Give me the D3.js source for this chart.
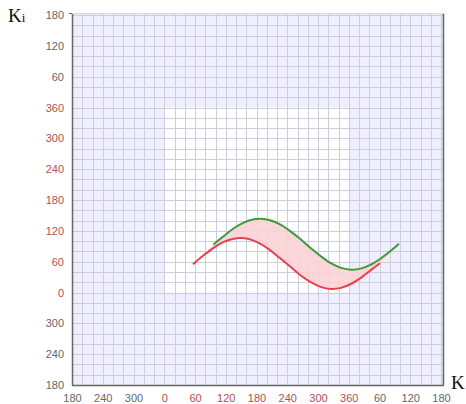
<!DOCTYPE html>
<html><head><meta charset="utf-8">
<script src="https://cdn.jsdelivr.net/npm/d3@7"></script>
<style>html,body{margin:0;padding:0;background:#fff;}svg{display:block;}</style>
</head><body>
<svg id="c" width="466" height="404"></svg>
<script>
// Tick positions (continuous unwrapped scale) and displayed labels
const xTickValues = [-180,-120,-60,0,60,120,180,240,300,360,420,480,540];
const xTickLabels = ["180","240","300","0","60","120","180","240","300","360","60","120","180"];
const yTickValues = [-180,-120,-60,0,60,120,180,240,300,360,420,480,540];
const yTickLabels = ["180","240","300","0","60","120","180","240","300","360","60","120","180"];
// red series (K, Ki)
const redX = [56,75,95,115,135,150,165,185,205,225,245,265,285,305,325,345,365,385,405,421];
const redY = [55,71,86,98,104.5,106,104,96,83.5,67.5,51,34,20.5,11,7,9,17,29.5,45,57];
// green series (K, Ki)
const greenX = [96,115,135,155,175,190,205,225,245,265,285,305,325,345,365,385,405,425,445,458];
const greenY = [93.5,109,124.5,136,142.5,143.5,141,133,120,104.5,87,71,57,48,44.5,47,55,68,83.5,95];
// white (principal) region
const regionX = [0,360];
const regionY = [0,360];

const svg = d3.select("#c");
const x = d3.scaleLinear().domain([-180,540]).range([72,441]);
const y = d3.scaleLinear().domain([-180,540]).range([385,15]);
const L = 72, R = 444, T = 13, B = 385;

svg.append("rect").attr("x",L).attr("y",T).attr("width",R-L).attr("height",B-T).attr("fill","#eeeefc");
svg.append("rect").attr("x",x(regionX[0])).attr("y",y(regionY[1]))
  .attr("width",x(regionX[1])-x(regionX[0])).attr("height",y(regionY[0])-y(regionY[1])).attr("fill","#ffffff");

const gridVals = d3.range(-180,541,20);
const g = svg.append("g").attr("stroke","#cdcde0").attr("stroke-width",1);
gridVals.forEach(v=>{
  const px = Math.round(x(v))+0.5;
  if (px>L+1 && px<R-1) g.append("line").attr("x1",px).attr("x2",px).attr("y1",T).attr("y2",B);
  const py = Math.round(y(v))+0.5;
  if (py>T+1 && py<B-1) g.append("line").attr("x1",L).attr("x2",R).attr("y1",py).attr("y2",py);
});

// frame
svg.append("line").attr("x1",L+0.5).attr("x2",L+0.5).attr("y1",T).attr("y2",B).attr("stroke","#666").attr("stroke-width",1.5);
svg.append("line").attr("x1",L).attr("x2",R).attr("y1",B+0.5).attr("y2",B+0.5).attr("stroke","#666").attr("stroke-width",1.5);
svg.append("line").attr("x1",R-0.5).attr("x2",R-0.5).attr("y1",T).attr("y2",B).attr("stroke","#666").attr("stroke-width",1.5);
svg.append("line").attr("x1",L).attr("x2",R).attr("y1",T+0.5).attr("y2",T+0.5).attr("stroke","#d8d8e4").attr("stroke-width",1);
svg.append("line").attr("x1",L-3).attr("x2",L).attr("y1",T+0.5).attr("y2",T+0.5).attr("stroke","#666");

// data
const red = redX.map((v,i)=>[v,redY[i]]);
const green = greenX.map((v,i)=>[v,greenY[i]]);
const line = d3.line().x(d=>x(d[0])).y(d=>y(d[1])).curve(d3.curveCatmullRom);
const fillPath = line(green) + "L" + line(red.slice().reverse()).slice(1) + "Z";
svg.append("path").attr("d",fillPath).attr("fill","#fbd3d6").attr("fill-opacity",0.9).attr("stroke","none");
svg.append("path").attr("d",line(red)).attr("fill","none").attr("stroke","#e5414f").attr("stroke-width",2);
svg.append("path").attr("d",line(green)).attr("fill","none").attr("stroke","#3d9a3d").attr("stroke-width",2);

// tick labels
const inRegion = v => v>=0 && v<=360;
const xa = svg.append("g").attr("transform",`translate(0,${B})`)
  .call(d3.axisBottom(x).tickValues(xTickValues).tickSize(0).tickPadding(9).tickFormat((d,i)=>xTickLabels[i]));
xa.select(".domain").remove();
xa.selectAll("text").attr("font-family","Liberation Sans, Arial, sans-serif").attr("font-size",11)
  .attr("fill",d=>inRegion(d)?"#b05050":"#666");
const ya = svg.append("g").attr("transform",`translate(${L-4},0)`)
  .call(d3.axisLeft(y).tickValues(yTickValues).tickSize(0).tickPadding(4).tickFormat((d,i)=>yTickLabels[i]));
ya.select(".domain").remove();
ya.selectAll("text").attr("font-family","Liberation Sans, Arial, sans-serif").attr("font-size",11)
  .attr("fill",d=>inRegion(d)?"#b05050":"#666");

// axis titles
const kt = svg.append("text").attr("x",8).attr("y",22).attr("font-family","Liberation Serif, Times New Roman, serif")
  .attr("font-size",19).attr("fill","#111");
kt.append("tspan").text("K");
kt.append("tspan").attr("font-size",13).text("i");
svg.append("text").attr("x",451).attr("y",389).attr("font-family","Liberation Serif, Times New Roman, serif")
  .attr("font-size",19).attr("fill","#111").text("K");
</script>
</body></html>
